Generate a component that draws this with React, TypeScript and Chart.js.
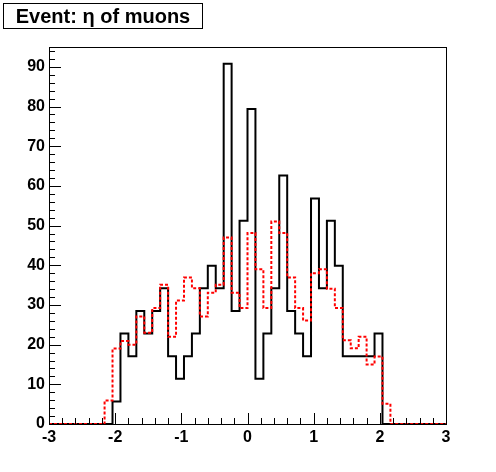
import React, { useEffect, useRef } from 'react';
import { Chart, registerables } from 'chart.js';

Chart.register(...registerables);

// ---- data ----
const X_MIN = -3;
const X_MAX = 3;
const BIN_WIDTH = 0.12;
const Y_MAX = 95;

const blackCounts = [
  0, 0, 0, 0, 0, 0, 0, 0,
  5.7, 22.8, 17.1, 28.5, 22.8, 28.5, 34.2, 17.1, 11.4, 17.1,
  22.8, 34.2, 39.9, 34.2, 90.8, 28.5, 51.2, 79.4, 11.4, 22.8,
  34.2, 62.6, 28.5, 22.8, 17.1, 56.8, 34.2, 51.2, 39.9, 17.1,
  17.1, 17.1, 17.1, 22.8,
  0, 0, 0, 0, 0, 0, 0, 0,
];

const redCounts = [
  0, 0, 0, 0, 0, 0, 0,
  5.9, 19.0, 20.9, 20.0, 27.1, 23.0, 29.2, 35.1, 22.0, 31.1,
  36.9, 34.2, 27.1, 33.1, 35.1, 47.0, 33.1, 29.2, 48.1, 39.0,
  29.2, 51.0, 48.1, 36.9, 29.2, 26.1, 38.0, 39.0, 34.1, 29.2,
  21.1, 19.1, 22.0, 15.0, 17.0, 5.1,
  0, 0, 0, 0, 0, 0, 0,
];

const xTickLabels = [-3, -2, -1, 0, 1, 2, 3];
const yTickLabels = [0, 10, 20, 30, 40, 50, 60, 70, 80, 90];
const titleText = 'Event: \u03b7 of muons';

function toSteps(values: number[]) {
  const pts = values.map((v, i) => ({ x: X_MIN + i * BIN_WIDTH, y: v }));
  pts.push({ x: X_MAX, y: values[values.length - 1] });
  return pts;
}

const FONT = '"Liberation Sans", Arial, Helvetica, sans-serif';

const rootAxesPlugin = {
  id: 'rootAxes',
  afterDatasetsDraw(chart: any) {
    const ctx = chart.ctx;
    const { left, right, top, bottom } = chart.chartArea;
    const xs = chart.scales.x;
    const ys = chart.scales.y;
    ctx.save();
    ctx.strokeStyle = '#000';
    ctx.lineWidth = 1;
    ctx.beginPath();
    // x ticks (inside, upward)
    const xMinorStep = 0.2;
    const nx = Math.round((X_MAX - X_MIN) / xMinorStep);
    for (let i = 0; i <= nx; i++) {
      const v = X_MIN + i * xMinorStep;
      const px = Math.round(xs.getPixelForValue(v)) + 0.5;
      const len = i % 5 === 0 ? 11 : 6;
      ctx.moveTo(px, bottom);
      ctx.lineTo(px, bottom - len);
    }
    // y ticks (inside, rightward)
    const yMinorStep = 2;
    for (let v = 0; v <= Y_MAX; v += yMinorStep) {
      const py = Math.round(ys.getPixelForValue(v)) + 0.5;
      const len = v % 10 === 0 ? 12 : 6;
      ctx.moveTo(left, py);
      ctx.lineTo(left + len, py);
    }
    ctx.stroke();
    // frame
    ctx.strokeRect(Math.round(left) + 0.5, Math.round(top) + 0.5, Math.round(right - left), Math.round(bottom - top));
    ctx.restore();
  },
  afterDraw(chart: any) {
    const ctx = chart.ctx;
    ctx.save();
    ctx.fillStyle = '#fff';
    ctx.fillRect(3.5, 3.5, 199, 25);
    ctx.strokeStyle = '#000';
    ctx.lineWidth = 1;
    ctx.strokeRect(3.5, 3.5, 199, 25);
    ctx.fillStyle = '#000';
    ctx.font = `bold 20px ${FONT}`;
    ctx.textAlign = 'center';
    ctx.textBaseline = 'alphabetic';
    ctx.fillText(titleText, 103, 23);
    ctx.restore();
  },
};

export default function App() {
  const canvasRef = useRef<HTMLCanvasElement | null>(null);

  useEffect(() => {
    document.body.style.margin = '0';
    const canvas = canvasRef.current;
    if (!canvas) return;
    const chart = new Chart(canvas, {
      type: 'line',
      data: {
        datasets: [
          {
            label: 'red',
            data: toSteps(redCounts),
            borderColor: '#ff0000',
            borderWidth: 2,
            borderDash: [3, 2],
            stepped: true,
            pointRadius: 0,
            fill: false,
            tension: 0,
          },
          {
            label: 'black',
            data: toSteps(blackCounts),
            borderColor: '#000000',
            borderWidth: 2,
            stepped: true,
            pointRadius: 0,
            fill: false,
            tension: 0,
          },
        ],
      },
      options: {
        animation: false,
        responsive: false,
        maintainAspectRatio: false,
        events: [],
        layout: { padding: { left: 0, right: 50, top: 47, bottom: 0 } },
        plugins: {
          legend: { display: false },
          title: { display: false },
          tooltip: { enabled: false },
        },
        scales: {
          x: {
            type: 'linear',
            min: X_MIN,
            max: X_MAX,
            grid: { display: false, drawTicks: false },
            border: { display: false },
            afterBuildTicks: (scale: any) => {
              scale.ticks = xTickLabels.map((v) => ({ value: v }));
            },
            afterFit: (scale: any) => {
              scale.height = 48;
            },
            ticks: {
              autoSkip: false,
              maxRotation: 0,
              padding: 4,
              color: '#000',
              font: { family: FONT, size: 16, weight: 'bold' },
              callback: (v: any) => String(v),
            },
          },
          y: {
            type: 'linear',
            min: 0,
            max: Y_MAX,
            grid: { display: false, drawTicks: false },
            border: { display: false },
            afterBuildTicks: (scale: any) => {
              scale.ticks = yTickLabels.map((v) => ({ value: v }));
            },
            afterFit: (scale: any) => {
              scale.width = 49;
            },
            ticks: {
              autoSkip: false,
              padding: 4,
              color: '#000',
              font: { family: FONT, size: 16, weight: 'bold' },
              callback: (v: any) => String(v),
            },
          },
        },
      },
      plugins: [rootAxesPlugin],
    });
    return () => chart.destroy();
  }, []);

  return (
    <div style={{ width: 496, height: 472, background: '#fff' }}>
      <canvas ref={canvasRef} width={496} height={472} style={{ display: 'block' }} />
    </div>
  );
}
